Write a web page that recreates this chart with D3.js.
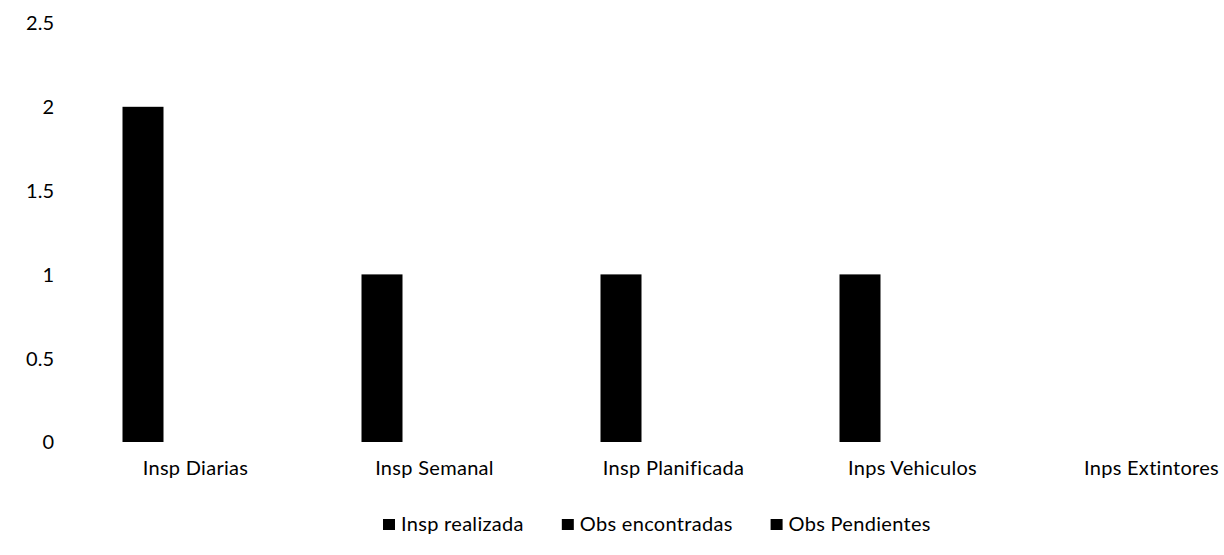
<!DOCTYPE html>
<html>
<head>
<meta charset="utf-8">
<script src="https://cdn.jsdelivr.net/npm/d3@7"></script>
<style>
  html, body { margin: 0; padding: 0; background: #fff; }
  svg { display: block; }
  text { font-family: Lato, "Open Sans", sans-serif; fill: #000; }
</style>
</head>
<body>
<svg id="chart" width="1224" height="555"></svg>
<script>
// Categories and series
const categories = ["Insp Diarias", "Insp Semanal", "Insp Planificada", "Inps Vehiculos", "Inps Extintores"];
const seriesNames = ["Insp realizada", "Obs encontradas", "Obs Pendientes"];
const inspRealizada = [2, 1, 1, 1, 0];
const obsEncontradas = [0, 0, 0, 0, 0];
const obsPendientes = [0, 0, 0, 0, 0];
const seriesColors = ["#000000", "#000000", "#000000"];
const yTicks = [0, 0.5, 1, 1.5, 2, 2.5];

const seriesValues = [inspRealizada, obsEncontradas, obsPendientes];
const FONT = 20;

const svg = d3.select("#chart");

// Scales
const x0 = d3.scaleBand().domain(categories).range([76, 1271]).padding(0);
const x1 = d3.scaleBand().domain(seriesNames)
  .range([(x0.bandwidth() - 146) / 2, (x0.bandwidth() + 146) / 2])
  .paddingInner(0.219).paddingOuter(0);
const y = d3.scaleLinear().domain([0, 2.5]).range([442, 23]);

// Y axis labels (no axis line)
const yAxis = d3.axisLeft(y).tickValues(yTicks).tickSize(0).tickPadding(0)
  .tickFormat(d => String(d));
const yG = svg.append("g").attr("transform", "translate(54,0)").call(yAxis);
yG.select(".domain").remove();
yG.selectAll("text").attr("font-size", FONT).attr("font-family", "Lato, sans-serif")
  .attr("fill", "#000").attr("dy", "0.34em");

// Bars
const groups = svg.append("g").selectAll("g")
  .data(categories)
  .join("g")
  .attr("transform", d => `translate(${x0(d)},0)`);

groups.selectAll("rect")
  .data((c, i) => seriesNames.map((s, k) => ({ s, k, v: seriesValues[k][i] })))
  .join("rect")
  .attr("x", d => x1(d.s))
  .attr("width", x1.bandwidth())
  .attr("y", d => y(d.v))
  .attr("height", d => y(0) - y(d.v))
  .attr("fill", d => seriesColors[d.k]);

// Category labels
const xAxis = d3.axisBottom(x0).tickSize(0).tickPadding(0);
const xG = svg.append("g").attr("transform", "translate(0,461)").call(xAxis);
xG.select(".domain").remove();
xG.selectAll("text").attr("font-size", FONT).attr("font-family", "Lato, sans-serif")
  .attr("fill", "#000").attr("letter-spacing", 0.3);

// Legend
const legend = svg.append("g").attr("transform", "translate(383,0)");
let lx = 0;
seriesNames.forEach((name, k) => {
  const item = legend.append("g").attr("transform", `translate(${lx},0)`);
  item.append("rect").attr("x", 0).attr("y", 519).attr("width", 12).attr("height", 11)
    .attr("fill", seriesColors[k]);
  const t = item.append("text").attr("x", 18).attr("y", 531)
    .attr("font-size", FONT).attr("letter-spacing", 0.3).text(name);
  lx += 18 + t.node().getComputedTextLength() + 38;
});
</script>
</body>
</html>
